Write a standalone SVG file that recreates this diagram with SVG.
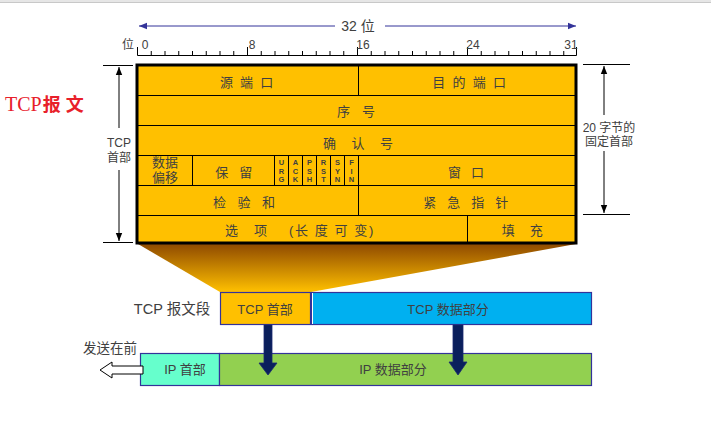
<svg xmlns="http://www.w3.org/2000/svg" width="711" height="430" viewBox="0 0 711 430">
<defs>
<style>
text{font-family:"Liberation Sans","Noto Sans CJK SC",sans-serif;fill:#404040;}
.c{text-anchor:middle;}
.f{font-size:13px;}
.fl{font-size:7.5px;font-weight:bold;text-anchor:middle;}
.ln{stroke:#000;stroke-width:1;fill:none;}
.box{stroke:#333399;stroke-width:1.2;}
</style>
<linearGradient id="trap" x1="0" y1="0" x2="0" y2="1">
<stop offset="0" stop-color="#8f4a00"/>
<stop offset="1" stop-color="#ffc000"/>
</linearGradient>
<marker id="ah" viewBox="0 0 10 10" refX="10" refY="5" markerWidth="8" markerHeight="8" markerUnits="userSpaceOnUse" orient="auto"><path d="M0,1 L10,5 L0,9 Z" fill="#000"/></marker>
<marker id="bh" viewBox="0 0 10 10" refX="10" refY="5" markerWidth="10" markerHeight="8" markerUnits="userSpaceOnUse" orient="auto"><path d="M0,1 L10,5 L0,9 Z" fill="#333399"/></marker>
</defs>
<rect x="0" y="0" width="711" height="2" fill="#e6e6e6"/>
<line x1="0" y1="2.5" x2="711" y2="2.5" stroke="#c8c8c8" stroke-width="1"/>

<g id="ruler">
<line x1="335" y1="26" x2="139" y2="26" stroke="#333399" stroke-width="1" marker-end="url(#bh)"/>
<line x1="385" y1="26" x2="576" y2="26" stroke="#333399" stroke-width="1" marker-end="url(#bh)"/>
<text x="358" y="31" class="c" font-size="14">32 位</text>
<path class="ln" d="M137.5,55.5 H576.5 M137.5,55.5 V47 M151.25,55.5 V51 M165,55.5 V51 M178.75,55.5 V51 M192.5,55.5 V51 M206.25,55.5 V51 M220,55.5 V51 M233.75,55.5 V51 M247.5,55.5 V47 M261.25,55.5 V51 M275,55.5 V51 M288.75,55.5 V51 M302.5,55.5 V51 M316.25,55.5 V51 M330,55.5 V51 M343.75,55.5 V51 M357.5,55.5 V47 M371.25,55.5 V51 M385,55.5 V51 M398.75,55.5 V51 M412.5,55.5 V51 M426.25,55.5 V51 M440,55.5 V51 M453.75,55.5 V51 M467.5,55.5 V47 M481.25,55.5 V51 M495,55.5 V51 M508.75,55.5 V51 M522.5,55.5 V51 M536.25,55.5 V51 M550,55.5 V51 M563.75,55.5 V51 M576.5,55.5 V47"/>
<text x="128" y="49" class="c" font-size="12">位</text>
<text x="145" y="49" class="c" font-size="12">0</text>
<text x="252" y="49" class="c" font-size="12">8</text>
<text x="363" y="49" class="c" font-size="12">16</text>
<text x="473" y="49" class="c" font-size="12">24</text>
<text x="571" y="49" class="c" font-size="12">31</text>
</g>

<g id="title">
<text x="5" y="111" font-size="20" style="font-family:'Liberation Serif','Noto Sans CJK SC',serif;fill:#e8202a">TCP<tspan dx="1" font-weight="bold" font-size="18" letter-spacing="5" style="font-family:'Noto Sans CJK SC',sans-serif;fill:#e8202a">报文</tspan></text>
</g>

<g id="tcp-header-bracket">
<path class="ln" d="M103,65.5 H133 M103,242.5 H133"/>
<line x1="119" y1="128" x2="119" y2="67" class="ln" marker-end="url(#ah)"/>
<line x1="119" y1="170" x2="119" y2="241" class="ln" marker-end="url(#ah)"/>
<text x="119" y="147" class="c" font-size="12">TCP</text>
<text x="119" y="162" class="c" font-size="12">首部</text>
</g>

<g id="fixed-header-bracket">
<path class="ln" d="M583,64.5 H630 M583,214.5 H630"/>
<line x1="604" y1="115" x2="604" y2="66" class="ln" marker-end="url(#ah)"/>
<line x1="604" y1="151" x2="604" y2="213" class="ln" marker-end="url(#ah)"/>
<text x="609" y="132" class="c" font-size="12">20 字节的</text>
<text x="609" y="146" class="c" font-size="12">固定首部</text>
</g>

<g id="trapezoid">
<polygon points="138,244 576,244 311,292 220,292" fill="url(#trap)"/>
</g>

<g id="tcp-header">
<rect x="137" y="65" width="439" height="178" fill="#ffc000"/>
<path class="ln" d="M137,95.5 H576 M137,125.5 H576 M137,155.5 H576 M137,185.5 H576 M137,215.5 H576 M358.5,65 V95 M192.5,155 V185 M274.5,155 V185 M288.5,155 V185 M302.5,155 V185 M316.5,155 V185 M330.5,155 V185 M344.5,155 V185 M358.5,155 V215 M467.5,215 V243"/>
<rect x="137" y="65" width="439" height="178" fill="none" stroke="#000" stroke-width="3"/>
<text x="247.5" y="87" class="c f" letter-spacing="1.75">源 端 口</text>
<text x="470" y="87" class="c f" letter-spacing="1.8">目 的 端 口</text>
<text x="358" y="116" class="c f" letter-spacing="4.2">序 号</text>
<text x="361" y="148" class="c f" letter-spacing="6">确 认 号</text>
<text x="165" y="167" class="c f">数据</text>
<text x="165" y="182" class="c f">偏移</text>
<text x="235.5" y="177" class="c f" letter-spacing="3.7">保 留</text>
<text x="467.5" y="177" class="c f" letter-spacing="3.2">窗 口</text>
<text class="fl"><tspan x="281.5" y="165">U</tspan><tspan x="281.5" y="173.7">R</tspan><tspan x="281.5" y="182.4">G</tspan></text>
<text class="fl"><tspan x="295.5" y="165">A</tspan><tspan x="295.5" y="173.7">C</tspan><tspan x="295.5" y="182.4">K</tspan></text>
<text class="fl"><tspan x="309.5" y="165">P</tspan><tspan x="309.5" y="173.7">S</tspan><tspan x="309.5" y="182.4">H</tspan></text>
<text class="fl"><tspan x="323.5" y="165">R</tspan><tspan x="323.5" y="173.7">S</tspan><tspan x="323.5" y="182.4">T</tspan></text>
<text class="fl"><tspan x="337.5" y="165">S</tspan><tspan x="337.5" y="173.7">Y</tspan><tspan x="337.5" y="182.4">N</tspan></text>
<text class="fl"><tspan x="351.5" y="165">F</tspan><tspan x="351.5" y="173.7">I</tspan><tspan x="351.5" y="182.4">N</tspan></text>
<text x="246" y="207" class="c f" letter-spacing="4">检 验 和</text>
<text x="467.5" y="207" class="c f" letter-spacing="3.7">紧 急 指 针</text>
<text y="235" class="f"><tspan x="225" letter-spacing="6.2">选 项</tspan><tspan x="289" letter-spacing="1.6">(长 度 可 变)</tspan></text>
<text x="525" y="235" class="c f" letter-spacing="5.7">填 充</text>
</g>

<g id="tcp-segment">
<text x="172" y="314" class="c" font-size="14.5">TCP 报文段</text>
<rect x="220.5" y="292.5" width="90" height="32" fill="#ffc000" class="box"/>
<text x="265" y="314" class="c f">TCP 首部</text>
<rect x="311.5" y="292.5" width="280" height="32" fill="#00b0f0" class="box"/>
<line x1="312.5" y1="293" x2="312.5" y2="324" stroke="#fff" stroke-width="1"/>
<text x="448" y="314" class="c f">TCP 数据部分</text>
</g>

<g id="ip-datagram">
<text x="110" y="353" class="c" font-size="13.5">发送在前</text>
<rect x="140.5" y="353.5" width="79" height="32" fill="#66ffcc" class="box"/>
<text x="185" y="374" class="c f">IP 首部</text>
<rect x="219.5" y="353.5" width="372" height="32" fill="#92d050" class="box"/>
<text x="393" y="374" class="c f">IP 数据部分</text>
<polygon points="100,370 112,362 112,366 143,366 143,374 112,374 112,378" fill="#fff" stroke="#000" stroke-width="1"/>
</g>

<g id="connectors">
<polygon points="264,325 272,325 272,363 277,363 268,375 259,363 264,363" fill="#0a1f5c" stroke="#1a2a70" stroke-width="0.8"/>
<polygon points="453,325 463,325 463,362 467,362 458,375 449,362 453,362" fill="#0a1f5c" stroke="#1a2a70" stroke-width="0.8"/>
</g>
</svg>
